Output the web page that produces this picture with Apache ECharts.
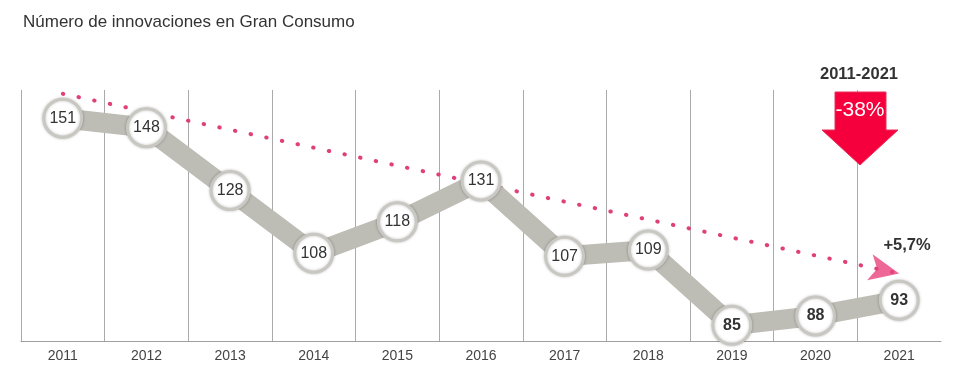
<!DOCTYPE html>
<html>
<head>
<meta charset="utf-8">
<script src="https://cdn.jsdelivr.net/npm/echarts@6/dist/echarts.min.js"></script>
<style>
  html, body { margin: 0; padding: 0; background: #fff; }
  #chart { width: 953px; height: 375px; }
</style>
</head>
<body>
<div id="chart"></div>
<script>
var years = ['2011', '2012', '2013', '2014', '2015', '2016', '2017', '2018', '2019', '2020', '2021']
var innovations = [151, 148, 128, 108, 118, 131, 107, 109, 85, 88, 93]
var boldFrom = 8  // 2019 onwards labels are bold
var trendStart = [-0.04, 158.8]
var trendEnd = [10.03, 101.5]

var chart = echarts.init(document.getElementById('chart'))

var lineData = innovations.map(function(v, i) {
    return {
        value: v,
        label: { fontWeight: i >= boldFrom ? 'bold' : 'normal' }
    }
})

chart.setOption({
    animation: false,
    title: {
        text: 'Número de innovaciones en Gran Consumo',
        left: 18, top: 9,
        textStyle: { fontFamily: 'Liberation Sans', fontSize: 17, fontWeight: 'normal', color: '#333' }
    },
    grid: { left: 21, right: 12, top: 90, bottom: 34 },
    xAxis: {
        type: 'category',
        data: years,
        boundaryGap: true,
        axisLine: { lineStyle: { color: '#a0a0a0', width: 1 } },
        axisTick: { length: 4, lineStyle: { color: '#a0a0a0' } },
        axisLabel: { color: '#444', fontSize: 14, fontFamily: 'Liberation Sans', margin: 8 },
        splitLine: { show: true, showMaxLine: false, lineStyle: { color: '#aaa', width: 1 } }
    },
    yAxis: {
        type: 'value', min: 80, max: 160,
        show: false, splitLine: { show: false }
    },
    series: [
        {
            type: 'line',
            data: [trendStart, trendEnd],
            symbol: 'none',
            silent: true,
            lineStyle: { color: '#e0407a', width: 4, type: [0.5, 15.5], cap: 'round' },
            z: 1
        },
        {
            type: 'scatter',
            data: [trendEnd],
            symbol: 'arrow',
            symbolSize: [20, 30],
            symbolRotate: -102,
            itemStyle: { color: '#e8427c' },
            silent: true,
            z: 1
        },
        {
            type: 'line',
            data: lineData,
            symbol: 'circle',
            symbolSize: 38,
            lineStyle: { color: '#bdbcb5', width: 20, cap: 'butt', join: 'miter' },
            itemStyle: {
                color: '#fff', borderColor: '#c8c7c1', borderWidth: 3,
                shadowBlur: 3, shadowColor: 'rgba(0,0,0,0.25)'
            },
            label: {
                show: true, position: 'inside',
                color: '#333', fontSize: 16, fontFamily: 'Liberation Sans'
            },
            z: 3
        }
    ],
    graphic: [
        {
            type: 'polygon',
            shape: { points: [[835, 92], [886, 92], [886, 130], [898, 130], [860, 165], [822, 130], [835, 130]] },
            style: { fill: '#f5003c', stroke: '#e8305a', lineWidth: 1 },
            z: 10
        },
        {
            type: 'text', x: 860, y: 110,
            style: { text: '-38%', fill: '#fff', fontSize: 21, fontFamily: 'Liberation Sans', align: 'center', verticalAlign: 'middle' },
            z: 11
        },
        {
            type: 'text', x: 859, y: 74,
            style: { text: '2011-2021', fill: '#333', fontSize: 16.5, fontWeight: 'bold', fontFamily: 'Liberation Sans', align: 'center', verticalAlign: 'middle' },
            z: 11
        },
        {
            type: 'text', x: 907, y: 245,
            style: { text: '+5,7%', fill: '#333', fontSize: 16.5, fontWeight: 'bold', fontFamily: 'Liberation Sans', align: 'center', verticalAlign: 'middle' },
            z: 11
        }
    ]
})
</script>
</body>
</html>
